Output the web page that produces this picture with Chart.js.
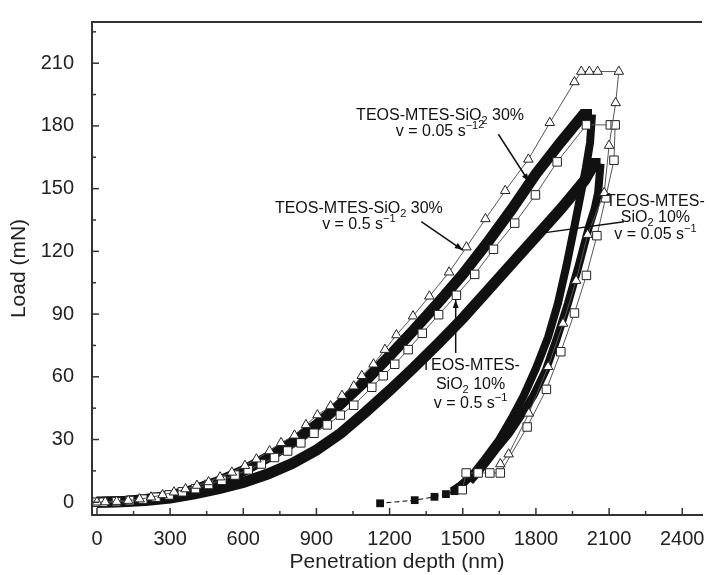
<!DOCTYPE html>
<html>
<head>
<meta charset="utf-8">
<script src="https://cdn.jsdelivr.net/npm/chart.js@4.4.1/dist/chart.umd.min.js"></script>
<style>
  html, body { margin: 0; padding: 0; background: #fff; }
  #wrap { width: 709px; height: 575px; }
</style>
</head>
<body>
<div id="wrap"><canvas id="loadChart" width="709" height="575"></canvas></div>
<script>
// TEOS-MTES-SiO2 30%, v = 0.5 s-1 (open triangles)
const fast30Depth = [0,34,81,128,175,222,269,316,363,410,458,505,553,607,654,708,755,810,857,904,958,1005,1053,1086,1134,1181,1228,1296,1363,1444,1515,1593,1674,1769,1857,1958,1986,2019,2053,2140,2127,2100,2080,2012,1965,1911,1850,1771,1688,1654];
const fast30Load  = [0,0.1,0.3,0.8,1.5,2.4,3.5,4.8,6.3,8,9.7,12,14.3,17.5,20.6,24.5,28.4,32,37,41.7,46,51,55.5,60.5,66,73,80,89,98.5,110,122,135.5,149,164,181.5,201,206,206,206,206,191,170.6,148,128,106,85.5,64.8,42.5,23,18.3];

// TEOS-MTES-SiO2 10%, v = 0.5 s-1 (open squares)
const fast10Depth = [0,26,80,134,188,242,296,350,404,458,512,566,620,674,728,782,836,890,944,998,1053,1127,1174,1221,1276,1334,1401,1474,1549,1626,1713,1798,1887,2007,2105,2125,2120,2086,2050,2007,1958,1902,1843,1764,1654,1611,1563,1514,1498];
const fast10Load  = [0,0,0.3,0.8,1.5,2.4,3.5,5,6.5,8.5,10.5,13,15.5,18.3,21.4,24.5,28.4,33,37,41.7,46.4,55,60.5,66,73,80.8,89.7,99,109,121,133.5,147,162.8,180.5,180.5,180.5,163.6,145.6,127.5,108.5,90.5,72,54,36,14,14,14,14,6];

// TEOS-MTES-SiO2 30%, v = 0.05 s-1 (dense record)
const slow30Depth = [0,100,200,300,400,500,600,700,800,900,1000,1100,1200,1300,1400,1500,1600,1700,1800,1900,1995,2030,2022,2005,1985,1958,1925,1890,1850,1800,1750,1700,1650,1593,1540,1490,1458];
const slow30Load  = [0,0.3,1.3,3,6,10,15,21.5,28.5,37,47,58,70,82.5,95.5,109,124,140,157,172,185.5,185.5,172,160,148,132,113,95,79,64,51,40,30,21,13,8,5.5];

// TEOS-MTES-SiO2 10%, v = 0.05 s-1 (dense record)
const slow10Depth = [0,100,200,300,400,500,600,700,800,900,1000,1100,1200,1300,1400,1500,1600,1700,1800,1900,2000,2040,2065,2055,2040,2018,1975,1931,1885,1840,1790,1742,1690,1634,1595,1560,1530];
const slow10Load  = [0,0.2,0.8,2,4,6.5,9.5,13.5,18.5,25,33,43,53.5,64.5,76,88,101,114,127,140,154,162,162,148,140,132,113,95,78,63,51,42,33,25,19,14,10];

// last unloading points, filled squares
const tailDepth = [1465,1431,1384,1303,1161];
const tailLoad  = [5.3,3.9,2.6,1.0,-0.5];

const xTickValues = [0,300,600,900,1200,1500,1800,2100,2400];
const yTickValues = [0,30,60,90,120,150,180,210];

const pts = (xs, ys) => xs.map((x, i) => ({ x, y: ys[i] }));

// text labels with arrows, anchored in data units
const notes = [
  { x: 1407, y: 183.0, gap: 16, lines: [[['TEOS-MTES-SiO'], ['2', 'sub'], [' 30%']], [['v = 0.05 s'], ['\u22121', 'sup'], ['2', 'sup2']]],
    arrow: { from: [1646, 176.0], to: [1771, 153.4], head: true } },
  { x: 1074, y: 138.4, gap: 16, lines: [[['TEOS-MTES-SiO'], ['2', 'sub'], [' 30%']], [['v = 0.5 s'], ['\u22121', 'sup']]],
    arrow: { from: [1330, 134.2], to: [1500, 120.6], head: true } },
  { x: 2290, y: 141.7, gap: 16.5, lines: [[['TEOS-MTES-']], [['SiO'], ['2', 'sub'], [' 10%']], [['v = 0.05 s'], ['\u22121', 'sup']]],
    arrow: { from: [2161, 134.2], to: [1816, 128.6], head: false } },
  { x: 1532, y: 63.4, gap: 19, lines: [[['TEOS-MTES-']], [['SiO'], ['2', 'sub'], [' 10%']], [['v = 0.5 s'], ['\u22121', 'sup']]],
    arrow: { from: [1471, 71.4], to: [1471, 96.7], head: true } }
];

const FONT = "'Liberation Sans', Arial, Helvetica, sans-serif";

function segFont(kind) {
  return (kind ? 11 : 16) + 'px ' + FONT;
}
function segShift(kind) {
  if (kind === 'sub') return 4;
  if (kind === 'sup') return -7;
  if (kind === 'sup2') return -8;
  return 0;
}

const notesPlugin = {
  id: 'notes',
  afterDatasetsDraw(chart) {
    const { ctx, scales: { x, y } } = chart;
    ctx.save();
    ctx.fillStyle = '#111';
    ctx.strokeStyle = '#111';
    ctx.textBaseline = 'alphabetic';
    notes.forEach(n => {
      const cx = x.getPixelForValue(n.x);
      const by = y.getPixelForValue(n.y);
      n.lines.forEach((line, li) => {
        let w = 0;
        line.forEach(([t, k]) => {
          ctx.font = segFont(k);
          w += ctx.measureText(t).width;
        });
        let px = cx - w / 2;
        line.forEach(([t, k]) => {
          ctx.font = segFont(k);
          ctx.fillText(t, px, by + li * n.gap + segShift(k));
          px += ctx.measureText(t).width;
        });
      });
      const a = n.arrow;
      const x0 = x.getPixelForValue(a.from[0]), y0 = y.getPixelForValue(a.from[1]);
      const x1 = x.getPixelForValue(a.to[0]), y1 = y.getPixelForValue(a.to[1]);
      ctx.lineWidth = 1.5;
      ctx.beginPath();
      ctx.moveTo(x0, y0);
      ctx.lineTo(x1, y1);
      ctx.stroke();
      if (a.head) {
        const ang = Math.atan2(y1 - y0, x1 - x0);
        ctx.beginPath();
        ctx.moveTo(x1, y1);
        ctx.lineTo(x1 - 8 * Math.cos(ang) + 3 * Math.sin(ang), y1 - 8 * Math.sin(ang) - 3 * Math.cos(ang));
        ctx.lineTo(x1 - 8 * Math.cos(ang) - 3 * Math.sin(ang), y1 - 8 * Math.sin(ang) + 3 * Math.cos(ang));
        ctx.closePath();
        ctx.fill();
      }
    });
    ctx.restore();
  }
};

// top edge plus inward major/minor ticks
const framePlugin = {
  id: 'frame',
  afterDraw(chart) {
    const { ctx, chartArea: a, scales: { x, y } } = chart;
    ctx.save();
    ctx.strokeStyle = '#333';
    ctx.lineWidth = 2;
    ctx.beginPath();
    ctx.moveTo(a.left - 1, a.top);
    ctx.lineTo(a.right, a.top);
    ctx.stroke();
    ctx.lineWidth = 1.5;
    const tick = (x0, y0, x1, y1) => { ctx.beginPath(); ctx.moveTo(x0, y0); ctx.lineTo(x1, y1); ctx.stroke(); };
    xTickValues.forEach(v => {
      const px = x.getPixelForValue(v);
      tick(px, a.bottom, px, a.bottom - 7);
      const mv = v + 150;
      if (mv < x.max) { const mp = x.getPixelForValue(mv); tick(mp, a.bottom, mp, a.bottom - 4); }
    });
    yTickValues.forEach(v => {
      const py = y.getPixelForValue(v);
      tick(a.left, py, a.left + 7, py);
      const mv = v + 15;
      if (mv < y.max) { const mp = y.getPixelForValue(mv); tick(a.left, mp, a.left + 4, mp); }
    });
    ctx.restore();
  }
};

// loading part of a band is drawn thicker than its unloading part
const bandWidth = unloadFrom => ctx => (ctx.p0DataIndex >= unloadFrom ? 8 : 11);

new Chart(document.getElementById('loadChart'), {
  type: 'scatter',
  data: {
    datasets: [
      {
        label: 'TEOS-MTES-SiO2 30% v = 0.5',
        data: pts(fast30Depth, fast30Load),
        showLine: true,
        borderColor: '#555',
        borderWidth: 1,
        pointStyle: 'triangle',
        pointRadius: 5.5,
        pointBorderWidth: 1,
        pointBorderColor: '#222',
        pointBackgroundColor: '#fff'
      },
      {
        label: 'TEOS-MTES-SiO2 10% v = 0.5',
        data: pts(fast10Depth, fast10Load),
        showLine: true,
        borderColor: '#555',
        borderWidth: 1,
        pointStyle: 'rect',
        pointRadius: 6,
        pointBorderWidth: 1,
        pointBorderColor: '#222',
        pointBackgroundColor: '#fff'
      },
      {
        label: 'tail',
        data: pts(tailDepth, tailLoad),
        showLine: true,
        borderColor: '#222',
        borderWidth: 1.2,
        borderDash: [5, 3],
        pointStyle: 'rect',
        pointRadius: 5.5,
        pointBorderWidth: 0,
        pointBackgroundColor: '#111'
      },
      {
        label: 'TEOS-MTES-SiO2 30% v = 0.05',
        data: pts(slow30Depth, slow30Load),
        showLine: true,
        borderColor: '#111',
        borderWidth: 11,
        borderJoinStyle: 'miter',
        segment: { borderWidth: bandWidth(21) },
        pointRadius: 0
      },
      {
        label: 'TEOS-MTES-SiO2 10% v = 0.05',
        data: pts(slow10Depth, slow10Load),
        showLine: true,
        borderColor: '#111',
        borderWidth: 11,
        borderJoinStyle: 'miter',
        segment: { borderWidth: bandWidth(22) },
        pointRadius: 0
      }
    ]
  },
  options: {
    responsive: false,
    animation: false,
    devicePixelRatio: 1,
    layout: { padding: { top: 12, right: 0, left: 0, bottom: 0 } },
    plugins: { legend: { display: false }, tooltip: { enabled: false } },
    scales: {
      x: {
        type: 'linear',
        position: 'bottom',
        min: -20.3,
        max: 2481,
        grid: { display: false },
        border: { display: true, color: '#333', width: 2 },
        afterBuildTicks: s => { s.ticks = xTickValues.map(v => ({ value: v })); },
        afterFit: s => { s.height = 60; },
        ticks: { color: '#222', padding: 4, maxRotation: 0, font: { family: FONT, size: 20 }, callback: v => String(v) },
        title: { display: true, text: 'Penetration depth (nm)', color: '#222', padding: { top: 0, bottom: 0 }, font: { family: FONT, size: 21 } }
      },
      y: {
        type: 'linear',
        min: -6.1,
        max: 229.7,
        grid: { display: false },
        border: { display: true, color: '#333', width: 2 },
        afterBuildTicks: s => { s.ticks = yTickValues.map(v => ({ value: v })); },
        afterFit: s => { s.width = 92; },
        ticks: { color: '#222', padding: 10, font: { family: FONT, size: 20 }, callback: v => String(v) },
        title: { display: true, text: 'Load (mN)', color: '#222', padding: { top: 7, bottom: 0 }, font: { family: FONT, size: 21 } }
      }
    }
  },
  plugins: [notesPlugin, framePlugin]
});
</script>
</body>
</html>
